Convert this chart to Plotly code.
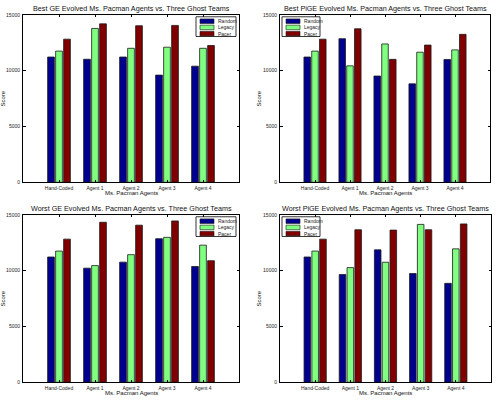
import plotly.graph_objects as go

W, H = 499, 403

categories = ["Hand-Coded", "Agent 1", "Agent 2", "Agent 3", "Agent 4"]
series_names = ["Random", "Legacy", "Pacer"]
colors = ["#00008F", "#80FF80", "#800000"]

titles = [
    "Best GE Evolved Ms. Pacman Agents vs. Three Ghost Teams",
    "Best PiGE Evolved Ms. Pacman Agents vs. Three Ghost Teams",
    "Worst GE Evolved Ms. Pacman Agents vs. Three Ghost Teams",
    "Worst PiGE Evolved Ms. Pacman Agents vs. Three Ghost Teams",
]

best_ge_random = [11220, 11020, 11220, 9600, 10400]
best_ge_legacy = [11750, 13780, 12000, 12100, 12000]
best_ge_pacer = [12820, 14190, 14020, 14050, 12250]

best_pige_random = [11220, 12860, 9520, 8820, 11000]
best_pige_legacy = [11750, 10430, 12390, 11650, 11860]
best_pige_pacer = [12820, 13750, 11010, 12290, 13250]

worst_ge_random = [11220, 10220, 10760, 12860, 10370]
worst_ge_legacy = [11750, 10450, 11430, 12980, 12280]
worst_ge_pacer = [12820, 14330, 14070, 14450, 10890]

worst_pige_random = [11220, 9650, 11860, 9740, 8860]
worst_pige_legacy = [11750, 10270, 10750, 14140, 11950]
worst_pige_pacer = [12820, 13660, 13630, 13660, 14180]

panels = [
    [best_ge_random, best_ge_legacy, best_ge_pacer],
    [best_pige_random, best_pige_legacy, best_pige_pacer],
    [worst_ge_random, worst_ge_legacy, worst_ge_pacer],
    [worst_pige_random, worst_pige_legacy, worst_pige_pacer],
]

y_ticks = [0, 5000, 10000, 15000]

# plot areas in pixels: (left, right, top, bottom)
boxes = [
    (23, 239, 12, 182),
    (280, 490, 12, 182),
    (23, 239, 215, 385),
    (280, 491, 215, 385),
]
legend_left = [True, False, True, False]  # True -> legend at upper right

FONT = "Liberation Sans, Arial, Helvetica, sans-serif"


def px(x):
    return x / W


def py(y):
    return 1 - y / H


fig = go.Figure()
shapes = []
annotations = []

for i, (data, box) in enumerate(zip(panels, boxes)):
    l, r, t, b = box
    ax = "" if i == 0 else str(i + 1)
    xa, ya = "x" + ax, "y" + ax
    for name, vals, col in zip(series_names, data, colors):
        fig.add_trace(go.Bar(
            x=categories, y=vals, name=name, showlegend=False,
            marker=dict(color=col, line=dict(color="#1a1a1a", width=0.8)),
            xaxis=xa, yaxis=ya,
        ))
    axis_common = dict(
        showline=True, linecolor="black", linewidth=1, mirror="ticks",
        ticks="inside", ticklen=2.5, tickcolor="black", tickwidth=0.8,
        showgrid=False, zeroline=False,
        tickfont=dict(size=5, family=FONT, color="#222"),
    )
    fig.layout["xaxis" + ax] = dict(
        axis_common, domain=[px(l), px(r)], anchor=ya,
        type="category", range=[-1, 5], categoryorder="array",
        categoryarray=categories, ticklabelstandoff=1,
    )
    fig.layout["yaxis" + ax] = dict(
        axis_common, domain=[py(b), py(t)], anchor=xa,
        range=[0, 15000], tickvals=y_ticks,
        ticktext=[str(v) for v in y_ticks], ticklabelstandoff=1,
    )
    # title
    annotations.append(dict(
        text=titles[i], x=px((l + r) / 2), y=py(t - 6.5), xref="paper",
        yref="paper", showarrow=False, xanchor="center", yanchor="middle",
        font=dict(size=7.2, family=FONT, color="#111"),
    ))
    # x label
    annotations.append(dict(
        text="Ms. Pacman Agents", x=px((l + r) / 2), y=py(b + 10.5),
        xref="paper", yref="paper", showarrow=False, xanchor="center",
        yanchor="middle", font=dict(size=6, family=FONT, color="#111"),
    ))
    # y label
    annotations.append(dict(
        text="Score", x=px(l - 20 if i % 2 == 0 else l - 21), y=py((t + b) / 2),
        xref="paper", yref="paper", showarrow=False, xanchor="center",
        yanchor="middle", textangle=-90,
        font=dict(size=6, family=FONT, color="#111"),
    ))
    # legend (drawn)
    if legend_left[i]:
        lx0, lx1 = r - 43, r - 3
    else:
        lx0, lx1 = l + 2, l + 40
    ly0, ly1 = t + 2, t + 22
    shapes.append(dict(type="rect", xref="paper", yref="paper",
                       x0=px(lx0), x1=px(lx1), y0=py(ly1), y1=py(ly0),
                       line=dict(color="black", width=0.8), fillcolor="white"))
    for k, (name, col) in enumerate(zip(series_names, colors)):
        cy = ly0 + 4.5 + k * 6.3
        shapes.append(dict(type="rect", xref="paper", yref="paper",
                           x0=px(lx0 + 4), x1=px(lx0 + 18),
                           y0=py(cy + 2.3), y1=py(cy - 2.3),
                           line=dict(color="#1a1a1a", width=0.6), fillcolor=col))
        annotations.append(dict(
            text=name, x=px(lx0 + 19.5), y=py(cy), xref="paper", yref="paper",
            showarrow=False, xanchor="left", yanchor="middle",
            font=dict(size=5, family=FONT, color="#222"),
        ))

fig.update_layout(
    width=W, height=H, margin=dict(l=0, r=0, t=0, b=0),
    paper_bgcolor="white", plot_bgcolor="white",
    barmode="group", bargap=0.333, bargroupgap=0.16,
    shapes=shapes, annotations=annotations, showlegend=False,
)

fig.write_html("out.html")
